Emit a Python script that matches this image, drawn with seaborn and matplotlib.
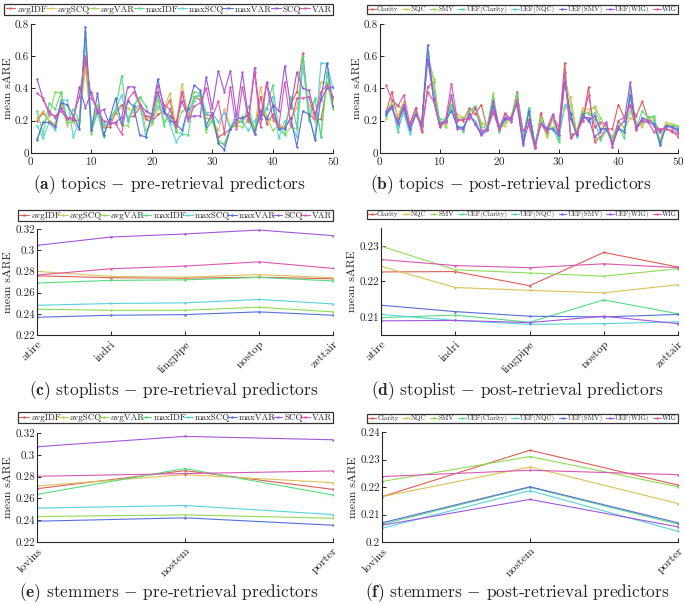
import matplotlib
matplotlib.use("Agg")
import matplotlib.pyplot as plt
from matplotlib.ticker import FuncFormatter
import pandas as pd
import seaborn as sns

# predictor names
pre_names = ["avgIDF", "avgSCQ", "avgVAR", "maxIDF", "maxSCQ", "maxVAR", "SCQ", "VAR"]
post_names = ["Clarity", "NQC", "SMV", "UEF(Clarity)", "UEF(NQC)", "UEF(SMV)", "UEF(WIG)", "WIG"]

topics = list(range(1, 51))
stoplists = ["atire", "indri", "lingpipe", "nostop", "zettair"]
stemmers = ["lovins", "nostem", "porter"]

# (a) topics - pre-retrieval
avgIDF_t = [0.20, 0.25, 0.20, 0.17, 0.33, 0.21, 0.20, 0.20, 0.58, 0.15, 0.26, 0.16, 0.16, 0.25, 0.30, 0.22, 0.23, 0.28, 0.21, 0.19,
            0.24, 0.26, 0.33, 0.14, 0.38, 0.22, 0.35, 0.33, 0.24, 0.23, 0.10, 0.12, 0.15, 0.18, 0.20, 0.25, 0.12, 0.35, 0.18, 0.24,
            0.16, 0.16, 0.30, 0.38, 0.62, 0.25, 0.20, 0.21, 0.42, 0.35]
avgSCQ_t = [0.22, 0.26, 0.20, 0.18, 0.30, 0.17, 0.22, 0.20, 0.52, 0.17, 0.30, 0.17, 0.18, 0.26, 0.28, 0.28, 0.25, 0.30, 0.23, 0.20,
            0.27, 0.28, 0.37, 0.17, 0.43, 0.24, 0.35, 0.35, 0.22, 0.20, 0.14, 0.27, 0.17, 0.17, 0.23, 0.19, 0.15, 0.41, 0.22, 0.20,
            0.18, 0.15, 0.22, 0.28, 0.55, 0.30, 0.20, 0.44, 0.43, 0.33]
avgVAR_t = [0.09, 0.19, 0.23, 0.38, 0.37, 0.19, 0.19, 0.15, 0.70, 0.12, 0.30, 0.11, 0.20, 0.27, 0.17, 0.17, 0.30, 0.34, 0.14, 0.18,
            0.33, 0.20, 0.22, 0.15, 0.26, 0.28, 0.38, 0.37, 0.13, 0.24, 0.06, 0.06, 0.15, 0.17, 0.16, 0.21, 0.15, 0.27, 0.23, 0.14,
            0.17, 0.11, 0.16, 0.15, 0.57, 0.25, 0.33, 0.10, 0.44, 0.27]
maxIDF_t = [0.26, 0.12, 0.31, 0.27, 0.38, 0.19, 0.27, 0.20, 0.75, 0.13, 0.25, 0.10, 0.21, 0.27, 0.48, 0.20, 0.29, 0.35, 0.29, 0.20,
            0.36, 0.17, 0.27, 0.13, 0.12, 0.11, 0.35, 0.36, 0.15, 0.20, 0.08, 0.05, 0.15, 0.20, 0.19, 0.29, 0.14, 0.22, 0.27, 0.42,
            0.15, 0.12, 0.35, 0.16, 0.60, 0.20, 0.34, 0.10, 0.50, 0.28]
maxSCQ_t = [0.17, 0.09, 0.19, 0.14, 0.32, 0.33, 0.10, 0.20, 0.70, 0.17, 0.25, 0.18, 0.20, 0.27, 0.36, 0.20, 0.27, 0.30, 0.10, 0.22,
            0.29, 0.25, 0.18, 0.07, 0.12, 0.26, 0.32, 0.38, 0.25, 0.25, 0.19, 0.25, 0.15, 0.25, 0.19, 0.14, 0.20, 0.24, 0.28, 0.35,
            0.09, 0.20, 0.18, 0.10, 0.55, 0.23, 0.09, 0.56, 0.55, 0.40]
maxVAR_t = [0.08, 0.19, 0.19, 0.16, 0.31, 0.30, 0.23, 0.15, 0.78, 0.14, 0.37, 0.11, 0.21, 0.34, 0.18, 0.32, 0.29, 0.11, 0.10, 0.24,
            0.46, 0.27, 0.20, 0.18, 0.14, 0.28, 0.42, 0.39, 0.17, 0.25, 0.06, 0.02, 0.15, 0.21, 0.22, 0.23, 0.12, 0.26, 0.21, 0.29,
            0.15, 0.15, 0.22, 0.04, 0.26, 0.24, 0.08, 0.34, 0.56, 0.29]
SCQ_t = [0.46, 0.33, 0.26, 0.22, 0.28, 0.22, 0.21, 0.41, 0.28, 0.38, 0.25, 0.27, 0.18, 0.19, 0.22, 0.41, 0.41, 0.30, 0.26, 0.24,
         0.38, 0.25, 0.23, 0.19, 0.32, 0.22, 0.23, 0.23, 0.47, 0.28, 0.51, 0.38, 0.51, 0.23, 0.50, 0.21, 0.53, 0.21, 0.44, 0.30,
         0.26, 0.54, 0.28, 0.50, 0.40, 0.39, 0.24, 0.33, 0.40, 0.41]
VAR_t = [0.37, 0.34, 0.24, 0.23, 0.26, 0.21, 0.22, 0.35, 0.60, 0.34, 0.27, 0.20, 0.19, 0.18, 0.12, 0.33, 0.38, 0.30, 0.23, 0.22,
         0.42, 0.30, 0.27, 0.16, 0.38, 0.20, 0.29, 0.31, 0.40, 0.22, 0.32, 0.13, 0.41, 0.15, 0.41, 0.20, 0.50, 0.16, 0.43, 0.22,
         0.16, 0.44, 0.17, 0.34, 0.34, 0.35, 0.22, 0.38, 0.42, 0.35]

# (b) topics - post-retrieval
Clarity_t = [0.25, 0.38, 0.21, 0.31, 0.17, 0.28, 0.13, 0.41, 0.44, 0.16, 0.20, 0.30, 0.21, 0.20, 0.28, 0.24, 0.30, 0.15, 0.25, 0.16,
             0.24, 0.21, 0.38, 0.13, 0.21, 0.03, 0.25, 0.12, 0.22, 0.13, 0.56, 0.09, 0.13, 0.20, 0.41, 0.07, 0.10, 0.15, 0.15, 0.30,
             0.22, 0.29, 0.23, 0.32, 0.21, 0.19, 0.14, 0.15, 0.14, 0.10]
NQC_t = [0.21, 0.32, 0.23, 0.32, 0.15, 0.25, 0.19, 0.60, 0.45, 0.19, 0.18, 0.28, 0.24, 0.22, 0.22, 0.28, 0.18, 0.16, 0.33, 0.16,
         0.17, 0.23, 0.35, 0.09, 0.27, 0.06, 0.20, 0.10, 0.21, 0.09, 0.28, 0.35, 0.13, 0.28, 0.27, 0.28, 0.18, 0.16, 0.07, 0.20,
         0.15, 0.22, 0.19, 0.16, 0.23, 0.20, 0.08, 0.19, 0.18, 0.17]
SMV_t = [0.24, 0.32, 0.30, 0.26, 0.14, 0.26, 0.18, 0.62, 0.46, 0.20, 0.16, 0.33, 0.22, 0.22, 0.25, 0.29, 0.19, 0.17, 0.37, 0.14,
         0.19, 0.22, 0.36, 0.10, 0.28, 0.05, 0.22, 0.11, 0.23, 0.08, 0.48, 0.30, 0.12, 0.26, 0.25, 0.29, 0.22, 0.15, 0.09, 0.19,
         0.16, 0.26, 0.17, 0.18, 0.22, 0.22, 0.06, 0.18, 0.17, 0.17]
UEF_Clarity_t = [0.23, 0.30, 0.13, 0.27, 0.13, 0.25, 0.16, 0.62, 0.38, 0.21, 0.21, 0.30, 0.17, 0.13, 0.26, 0.29, 0.16, 0.16, 0.34, 0.13,
                 0.21, 0.20, 0.37, 0.08, 0.28, 0.05, 0.19, 0.14, 0.16, 0.07, 0.49, 0.12, 0.12, 0.25, 0.24, 0.21, 0.08, 0.14, 0.10, 0.17,
                 0.09, 0.40, 0.16, 0.26, 0.22, 0.23, 0.06, 0.17, 0.17, 0.16]
UEF_NQC_t = [0.23, 0.28, 0.16, 0.25, 0.12, 0.24, 0.17, 0.60, 0.36, 0.18, 0.21, 0.27, 0.17, 0.15, 0.23, 0.20, 0.13, 0.16, 0.30, 0.15,
             0.21, 0.20, 0.32, 0.07, 0.27, 0.05, 0.19, 0.16, 0.14, 0.10, 0.30, 0.25, 0.10, 0.24, 0.19, 0.25, 0.14, 0.15, 0.06, 0.16,
             0.13, 0.34, 0.16, 0.21, 0.20, 0.19, 0.05, 0.16, 0.16, 0.14]
UEF_SMV_t = [0.24, 0.28, 0.19, 0.28, 0.15, 0.24, 0.18, 0.67, 0.33, 0.18, 0.20, 0.26, 0.16, 0.16, 0.24, 0.18, 0.12, 0.15, 0.29, 0.15,
             0.21, 0.21, 0.31, 0.06, 0.26, 0.04, 0.18, 0.15, 0.15, 0.11, 0.44, 0.24, 0.11, 0.24, 0.20, 0.23, 0.15, 0.15, 0.06, 0.15,
             0.13, 0.36, 0.16, 0.20, 0.19, 0.18, 0.05, 0.17, 0.16, 0.15]
UEF_WIG_t = [0.26, 0.29, 0.18, 0.30, 0.15, 0.24, 0.17, 0.58, 0.34, 0.17, 0.19, 0.36, 0.15, 0.15, 0.24, 0.18, 0.11, 0.14, 0.32, 0.16,
             0.22, 0.22, 0.30, 0.05, 0.19, 0.04, 0.18, 0.15, 0.24, 0.11, 0.44, 0.21, 0.12, 0.22, 0.22, 0.10, 0.13, 0.19, 0.04, 0.16,
             0.20, 0.44, 0.14, 0.22, 0.20, 0.17, 0.13, 0.17, 0.16, 0.13]
WIG_t = [0.42, 0.33, 0.29, 0.36, 0.18, 0.28, 0.14, 0.38, 0.32, 0.17, 0.20, 0.43, 0.20, 0.21, 0.21, 0.28, 0.14, 0.14, 0.26, 0.14,
         0.25, 0.19, 0.33, 0.14, 0.17, 0.03, 0.18, 0.13, 0.23, 0.16, 0.50, 0.10, 0.13, 0.20, 0.36, 0.16, 0.19, 0.18, 0.04, 0.20,
         0.22, 0.30, 0.15, 0.20, 0.19, 0.13, 0.15, 0.15, 0.13, 0.12]

# (c) stoplists - pre-retrieval
avgIDF_s = [0.2758, 0.2740, 0.2736, 0.2745, 0.2730]
avgSCQ_s = [0.2800, 0.2752, 0.2745, 0.2770, 0.2740]
avgVAR_s = [0.2443, 0.2433, 0.2433, 0.2462, 0.2418]
maxIDF_s = [0.2690, 0.2715, 0.2720, 0.2743, 0.2710]
maxSCQ_s = [0.2480, 0.2497, 0.2503, 0.2535, 0.2493]
maxVAR_s = [0.2367, 0.2386, 0.2392, 0.2418, 0.2386]
SCQ_s = [0.3045, 0.3124, 0.3153, 0.3190, 0.3137]
VAR_s = [0.2765, 0.2825, 0.2850, 0.2890, 0.2828]

# (d) stoplist - post-retrieval
Clarity_s = [0.2227, 0.2228, 0.2188, 0.2282, 0.2241]
NQC_s = [0.2243, 0.2183, 0.2175, 0.2168, 0.2191]
SMV_s = [0.2300, 0.2233, 0.2224, 0.2215, 0.2236]
UEF_Clarity_s = [0.2098, 0.2105, 0.2085, 0.2148, 0.2109]
UEF_NQC_s = [0.2107, 0.2090, 0.2079, 0.2081, 0.2086]
UEF_SMV_s = [0.2133, 0.2115, 0.2102, 0.2100, 0.2107]
UEF_WIG_s = [0.2089, 0.2090, 0.2084, 0.2102, 0.2081]
WIG_s = [0.2262, 0.2245, 0.2239, 0.2250, 0.2239]

# (e) stemmers - pre-retrieval
avgIDF_m = [0.2689, 0.2855, 0.2683]
avgSCQ_m = [0.2714, 0.2818, 0.2745]
avgVAR_m = [0.2434, 0.2449, 0.2418]
maxIDF_m = [0.2637, 0.2874, 0.2631]
maxSCQ_m = [0.2511, 0.2535, 0.2452]
maxVAR_m = [0.2391, 0.2422, 0.2354]
SCQ_m = [0.3074, 0.3169, 0.3138]
VAR_m = [0.2803, 0.2828, 0.2852]

# (f) stemmers - post-retrieval
Clarity_m = [0.2165, 0.2334, 0.2207]
NQC_m = [0.2165, 0.2273, 0.2140]
SMV_m = [0.2220, 0.2311, 0.2201]
UEF_Clarity_m = [0.2065, 0.2199, 0.2065]
UEF_NQC_m = [0.2050, 0.2187, 0.2039]
UEF_SMV_m = [0.2070, 0.2201, 0.2070]
UEF_WIG_m = [0.2061, 0.2155, 0.2055]
WIG_m = [0.2238, 0.2261, 0.2245]

sns.set_style("ticks")
plt.rcParams["font.family"] = ["cmr10", "DejaVu Serif"]
plt.rcParams["mathtext.fontset"] = "cm"
plt.rcParams["axes.formatter.use_mathtext"] = True
pal = sns.color_palette("hls", 8)


def long_df(xs, names, series):
    rows = []
    for n, vals in zip(names, series):
        for x, v in zip(xs, vals):
            rows.append((x, n, v))
    return pd.DataFrame(rows, columns=["x", "predictor", "sARE"])


def panel(ax, xs, names, series, leg_box, leg_fs):
    df = long_df(xs, names, series)
    sns.lineplot(data=df, x="x", y="sARE", hue="predictor", hue_order=names,
                 palette=pal, marker=".", markersize=3.5, markeredgewidth=0,
                 linewidth=0.8, sort=False, legend=False, ax=ax)
    leg = ax.legend(ax.lines[:len(names)], names, loc="lower left", bbox_to_anchor=leg_box,
                    mode="expand", ncol=8, fontsize=leg_fs, handlelength=1.1,
                    handletextpad=0.2, columnspacing=0.3, borderpad=0.15,
                    borderaxespad=0, fancybox=False, framealpha=1)
    leg.get_frame().set_edgecolor("#333333")
    leg.get_frame().set_linewidth(0.9)
    ax.set_xlabel("")
    ax.set_ylabel("mean sARE", fontsize=8.5, labelpad=1.5)
    ax.tick_params(direction="in", length=3, width=0.7, labelsize=8, pad=1.5)
    ax.yaxis.set_major_formatter(FuncFormatter(lambda v, p: "{:g}".format(round(v, 4))))
    sns.despine(ax=ax)
    for s in ["left", "bottom"]:
        ax.spines[s].set_linewidth(0.8)


def cat_axis(ax, labels):
    ax.set_xlim(0, len(labels) - 1)
    ax.tick_params(axis="x", labelsize=8.5, pad=3)
    for t in ax.get_xticklabels():
        t.set_rotation(45)
        t.set_ha("right")
        t.set_rotation_mode("anchor")


fig = plt.figure(figsize=(6.85, 6.04), dpi=100)
ax_a = fig.add_axes([0.0453, 0.7467, 0.4409, 0.2136])
ax_b = fig.add_axes([0.5547, 0.7467, 0.4350, 0.2136])
ax_c = fig.add_axes([0.0540, 0.4454, 0.4321, 0.1755])
ax_d = fig.add_axes([0.5562, 0.4454, 0.4336, 0.1771])
ax_e = fig.add_axes([0.0540, 0.1026, 0.4321, 0.1805])
ax_f = fig.add_axes([0.5577, 0.1026, 0.4321, 0.1821])

panel(ax_a, topics, pre_names,
      [avgIDF_t, avgSCQ_t, avgVAR_t, maxIDF_t, maxSCQ_t, maxVAR_t, SCQ_t, VAR_t],
      (-0.089, 1.07, 1.089, 0.09), 6.5)
ax_a.set_xlim(0, 50)
ax_a.set_ylim(0, 0.8)
ax_a.set_xticks(range(0, 51, 10))
ax_a.set_yticks([0, 0.2, 0.4, 0.6, 0.8])

panel(ax_b, topics, post_names,
      [Clarity_t, NQC_t, SMV_t, UEF_Clarity_t, UEF_NQC_t, UEF_SMV_t, UEF_WIG_t, WIG_t],
      (-0.044, 1.075, 1.044, 0.075), 5)
ax_b.set_xlim(0, 50)
ax_b.set_ylim(0, 0.8)
ax_b.set_xticks(range(0, 51, 10))
ax_b.set_yticks([0, 0.2, 0.4, 0.6, 0.8])

panel(ax_c, stoplists, pre_names,
      [avgIDF_s, avgSCQ_s, avgVAR_s, maxIDF_s, maxSCQ_s, maxVAR_s, SCQ_s, VAR_s],
      (-0.064, 1.075, 1.064, 0.09), 6.5)
ax_c.set_ylim(0.22, 0.32)
ax_c.set_yticks([0.22, 0.24, 0.26, 0.28, 0.30, 0.32])
cat_axis(ax_c, stoplists)

panel(ax_d, stoplists, post_names,
      [Clarity_s, NQC_s, SMV_s, UEF_Clarity_s, UEF_NQC_s, UEF_SMV_s, UEF_WIG_s, WIG_s],
      (-0.047, 1.084, 1.047, 0.075), 5)
ax_d.set_ylim(0.2049, 0.2351)
ax_d.set_yticks([0.21, 0.22, 0.23])
cat_axis(ax_d, stoplists)

panel(ax_e, stemmers, pre_names,
      [avgIDF_m, avgSCQ_m, avgVAR_m, maxIDF_m, maxSCQ_m, maxVAR_m, SCQ_m, VAR_m],
      (-0.064, 1.09, 1.064, 0.085), 6.5)
ax_e.set_ylim(0.22, 0.32)
ax_e.set_yticks([0.22, 0.24, 0.26, 0.28, 0.30, 0.32])
cat_axis(ax_e, stemmers)

panel(ax_f, stemmers, post_names,
      [Clarity_m, NQC_m, SMV_m, UEF_Clarity_m, UEF_NQC_m, UEF_SMV_m, UEF_WIG_m, WIG_m],
      (-0.05, 1.08, 1.05, 0.075), 5)
ax_f.set_ylim(0.20, 0.24)
ax_f.set_yticks([0.20, 0.21, 0.22, 0.23, 0.24])
cat_axis(ax_f, stemmers)

captions = [
    (0.248, 0.694, r"$\mathbf{(a)}$ topics $-$ pre-retrieval predictors"),
    (0.746, 0.694, r"$\mathbf{(b)}$ topics $-$ post-retrieval predictors"),
    (0.254, 0.354, r"$\mathbf{(c)}$ stoplists $-$ pre-retrieval predictors"),
    (0.755, 0.354, r"$\mathbf{(d)}$ stoplist $-$ post-retrieval predictors"),
    (0.247, 0.018, r"$\mathbf{(e)}$ stemmers $-$ pre-retrieval predictors"),
    (0.755, 0.018, r"$\mathbf{(f)}$ stemmers $-$ post-retrieval predictors"),
]
for x, y, s in captions:
    fig.text(x, y, s, ha="center", va="center", fontsize=12.5)

fig.savefig("out.png", dpi=100)
